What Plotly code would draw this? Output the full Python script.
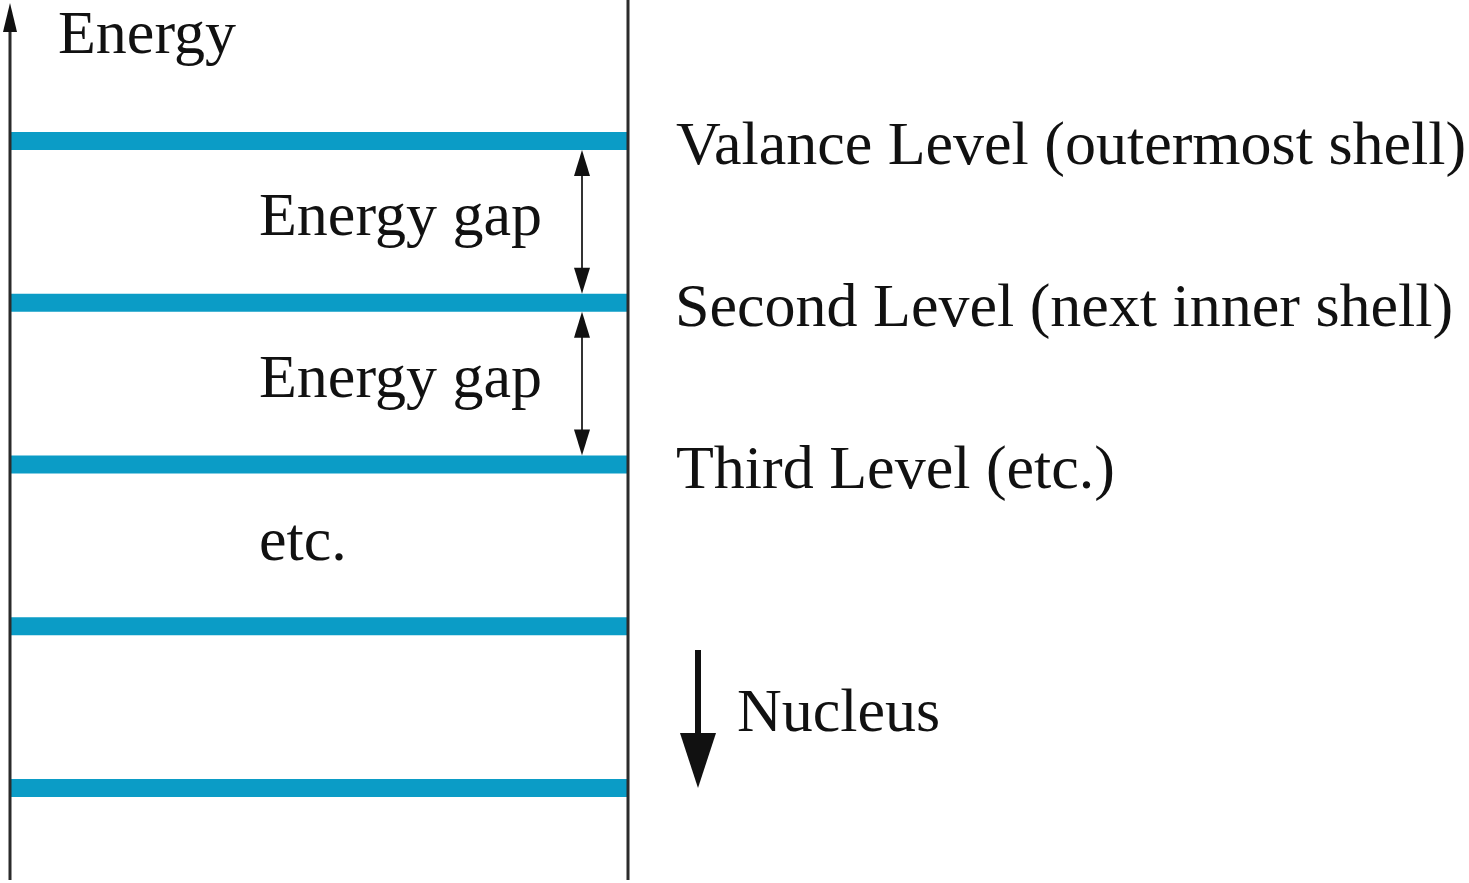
import plotly.graph_objects as go

# ---- data -------------------------------------------------------------
levels = [5, 4, 3, 2, 1]                       # energy levels, outermost at top
level_labels = ["Valance Level (outermost shell)",
                "Second Level (next inner shell)",
                "Third Level (etc.)"]
gap_label = "Energy gap"
gap_pairs = [(5, 4), (4, 3)]
etc_label = "etc."
axis_label = "Energy"
nucleus_label = "Nucleus"

# ---- layout helpers ---------------------------------------------------
W, H = 1469, 883
PX_PER_LEVEL = 161.75
X_LEFT, X_RIGHT = 10, 628
BAR_COLOR = "#0b9cc6"
LINE_COLOR = "#2b2b2b"
FONT = "Liberation Serif, Times New Roman, serif"
FS = 62


def py(p):
    """pixel row -> level units"""
    return 1 + (788 - p) / PX_PER_LEVEL


def dy(p):
    return p / PX_PER_LEVEL


Y_LO = py(H)
Y_HI = py(0)

fig = go.Figure()

# level bars
for lv in levels:
    fig.add_trace(go.Scatter(x=[X_LEFT, X_RIGHT], y=[lv, lv], mode="lines",
                             line=dict(color=BAR_COLOR, width=18),
                             hoverinfo="skip", showlegend=False))

# vertical lines
fig.add_trace(go.Scatter(x=[X_LEFT, X_LEFT], y=[py(880), py(20)], mode="lines",
                         line=dict(color=LINE_COLOR, width=3),
                         hoverinfo="skip", showlegend=False))
fig.add_trace(go.Scatter(x=[X_RIGHT, X_RIGHT], y=[py(880), py(0)], mode="lines",
                         line=dict(color=LINE_COLOR, width=3),
                         hoverinfo="skip", showlegend=False))

shapes = []


def tri(xc, ytip, ybase, half):
    return dict(type="path", xref="x", yref="y",
                path=f"M {xc},{ytip} L {xc-half},{ybase} L {xc+half},{ybase} Z",
                fillcolor="#111111", line=dict(width=0))


# energy axis arrow head
shapes.append(tri(X_LEFT, py(3), py(32), 7))

# gap double arrows
GX = 582
half_bar = dy(9)
for top, bot in gap_pairs:
    t = top - half_bar
    b = bot + half_bar
    shapes.append(dict(type="line", xref="x", yref="y", x0=GX, x1=GX,
                       y0=t - dy(10), y1=b + dy(10),
                       line=dict(color="#333333", width=2)))
    shapes.append(tri(GX, t, t - dy(26), 8))
    shapes.append(tri(GX, b, b + dy(26), 8))

# nucleus arrow
NX = 698
shapes.append(dict(type="line", xref="x", yref="y", x0=NX, x1=NX,
                   y0=py(650), y1=py(740),
                   line=dict(color="#111111", width=6)))
shapes.append(tri(NX, py(788), py(733), 18))

annotations = []


def txt(x, y, s):
    annotations.append(dict(x=x, y=y, xref="x", yref="y", text=s,
                            showarrow=False, xanchor="left", yanchor="middle",
                            font=dict(family=FONT, size=FS, color="#111111")))


txt(56, py(32), axis_label)
txt(674, levels[0] - dy(2.5), level_labels[0])
txt(673, levels[1] - dy(2.5), level_labels[1])
txt(674, levels[2] - dy(2.5), level_labels[2])
for top, bot in gap_pairs:
    txt(257, (top + bot) / 2 + dy(7.5), gap_label)
txt(257, (levels[2] + levels[3]) / 2 + dy(6), etc_label)
txt(735, (levels[3] + levels[4]) / 2 - dy(3), nucleus_label)

fig.update_layout(
    width=W, height=H,
    margin=dict(l=0, r=0, t=0, b=0),
    paper_bgcolor="white", plot_bgcolor="white",
    xaxis=dict(range=[0, W], visible=False, fixedrange=True),
    yaxis=dict(range=[Y_LO, Y_HI], visible=False, fixedrange=True),
    shapes=shapes, annotations=annotations,
    showlegend=False,
)

fig.write_html(
    "out.html",
    config={"displayModeBar": False},
    post_script="document.body.style.margin='0';"
                "document.body.style.overflow='hidden';",
)
